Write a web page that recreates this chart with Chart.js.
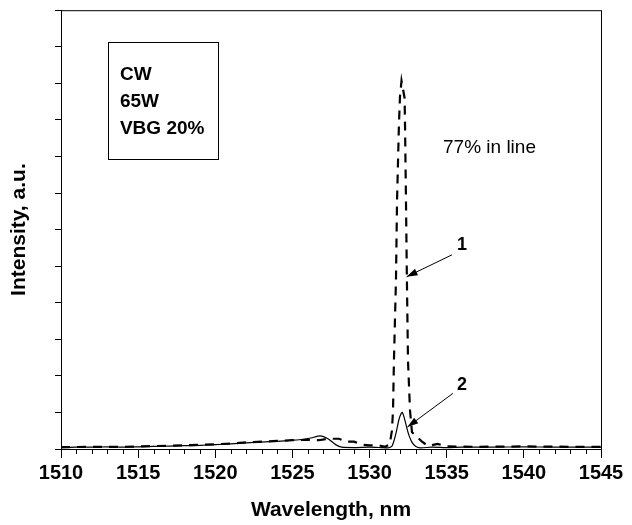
<!DOCTYPE html>
<html>
<head>
<meta charset="utf-8">
<script src="https://cdn.jsdelivr.net/npm/chart.js@4.4.1/dist/chart.umd.min.js"></script>
<style>
  body { margin: 0; background: #fff; }
  #wrap { width: 632px; height: 525px; }
</style>
</head>
<body>
<div id="wrap"><canvas id="spectrum" width="632" height="525"></canvas></div>
<script>
// Curve 1 (dashed) - spectrum
const wavelength1 = [1510, 1512, 1514, 1516, 1518, 1520, 1521, 1522, 1523, 1524, 1525, 1526, 1526.7, 1527.3, 1528,
  1528.5, 1529, 1529.5, 1530, 1530.6, 1531, 1531.3, 1531.45, 1531.52, 1531.58, 1531.71, 1531.78, 1531.9, 1531.97,
  1532.07, 1532.27, 1532.3, 1532.36, 1532.42, 1532.49, 1532.62, 1532.75, 1532.95, 1533.4, 1533.8, 1534.4, 1535,
  1537, 1540, 1543, 1545];
const intensity1 = [0.05, 0.06, 0.06, 0.08, 0.1, 0.13, 0.15, 0.18, 0.2, 0.22, 0.24, 0.25, 0.24, 0.28, 0.28,
  0.2, 0.2, 0.12, 0.1, 0.1, 0.06, 0.12, 0.5, 1.06, 2.42, 4.6, 6.78, 8.82, 9.63,
  10.07, 9.6, 8.8, 6.78, 4.6, 2.42, 1.06, 0.46, 0.38, 0.2, 0.08, 0.14, 0.07,
  0.06, 0.07, 0.06, 0.06];

// Curve 2 (solid)
const wavelength2 = [1510, 1511, 1512, 1513, 1514, 1515, 1516, 1517, 1518, 1519, 1520, 1521, 1522, 1523, 1524, 1525,
  1525.6, 1526.2, 1526.8, 1527.3, 1527.8, 1528.2, 1529, 1530, 1530.7, 1531.2, 1531.45, 1531.6, 1531.75, 1531.9,
  1532.05, 1532.12, 1532.25, 1532.4, 1532.55, 1532.75, 1533, 1533.3, 1534, 1535, 1536, 1538, 1540, 1542, 1545];
const intensity2 = [0.04, 0.05, 0.05, 0.06, 0.05, 0.06, 0.07, 0.08, 0.09, 0.1, 0.12, 0.14, 0.17, 0.19, 0.21, 0.24,
  0.26, 0.3, 0.36, 0.28, 0.12, 0.05, 0.04, 0.05, 0.04, 0.03, 0.08, 0.25, 0.5, 0.8,
  0.98, 1.0, 0.85, 0.6, 0.38, 0.18, 0.07, 0.03, 0.05, 0.04, 0.05, 0.05, 0.06, 0.05, 0.05];

const xTicks = [1510, 1515, 1520, 1525, 1530, 1535, 1540, 1545];

// text box and labels, in data units
const boxLines = ['CW', '65W', 'VBG 20%'];
const boxLineY = [10.23, 9.5, 8.76];
const notes = [
  { text: '77% in line', x: 1534.76, y: 8.24, font: '19px "Liberation Sans", Arial, sans-serif' },
  { text: '1', x: 1535.99, y: 5.58, font: 'bold 18px "Liberation Sans", Arial, sans-serif' },
  { text: '2', x: 1535.99, y: 1.74, font: 'bold 18px "Liberation Sans", Arial, sans-serif' }
];
const arrows = [
  { from: [1535.34, 5.31], to: [1532.4, 4.71] },
  { from: [1535.4, 1.52], to: [1532.45, 0.6] }
];

const FONT = '"Liberation Sans", Arial, sans-serif';
const toPoints = (xs, ys) => xs.map((x, i) => ({ x: x, y: ys[i] }));

// frame, minor ticks and annotations
const decorations = {
  id: 'decorations',
  afterDraw(chart) {
    const { ctx, chartArea: a, scales: { x, y } } = chart;
    ctx.save();
    ctx.strokeStyle = '#000';
    ctx.lineWidth = 1;
    ctx.strokeRect(a.left + 0.5, a.top + 0.5, a.right - a.left, a.bottom - a.top);

    // minor ticks every 1 nm
    ctx.beginPath();
    for (let w = 1511; w < 1545; w++) {
      if (w % 5 === 0) continue;
      const px = Math.round(x.getPixelForValue(w)) + 0.5;
      ctx.moveTo(px, a.bottom);
      ctx.lineTo(px, a.bottom + 5);
    }
    ctx.stroke();

    // text box
    const bx1 = x.getPixelForValue(1513.05), bx2 = x.getPixelForValue(1520.18);
    const by1 = y.getPixelForValue(11.13), by2 = y.getPixelForValue(7.92);
    ctx.strokeRect(Math.round(bx1) + 0.5, Math.round(by1) + 0.5, Math.round(bx2 - bx1), Math.round(by2 - by1));
    ctx.fillStyle = '#000';
    ctx.font = 'bold 19px ' + FONT;
    ctx.textBaseline = 'middle';
    ctx.textAlign = 'left';
    boxLines.forEach((t, i) => {
      ctx.fillText(t, x.getPixelForValue(1513.82), y.getPixelForValue(boxLineY[i]));
    });

    notes.forEach(n => {
      ctx.font = n.font;
      ctx.textAlign = n.text.length > 1 ? 'left' : 'center';
      ctx.fillText(n.text, x.getPixelForValue(n.x), y.getPixelForValue(n.y));
    });

    arrows.forEach(ar => {
      const x1 = x.getPixelForValue(ar.from[0]), y1 = y.getPixelForValue(ar.from[1]);
      const x2 = x.getPixelForValue(ar.to[0]), y2 = y.getPixelForValue(ar.to[1]);
      const ang = Math.atan2(y2 - y1, x2 - x1);
      ctx.beginPath();
      ctx.moveTo(x1, y1);
      ctx.lineTo(x2, y2);
      ctx.lineWidth = 1;
      ctx.stroke();
      ctx.beginPath();
      ctx.moveTo(x2, y2);
      ctx.lineTo(x2 - 11 * Math.cos(ang) + 3.5 * Math.sin(ang), y2 - 11 * Math.sin(ang) - 3.5 * Math.cos(ang));
      ctx.lineTo(x2 - 11 * Math.cos(ang) - 3.5 * Math.sin(ang), y2 - 11 * Math.sin(ang) + 3.5 * Math.cos(ang));
      ctx.closePath();
      ctx.fill();
    });
    ctx.restore();
  }
};

const ctx = document.getElementById('spectrum').getContext('2d');
new Chart(ctx, {
  type: 'line',
  data: {
    datasets: [
      {
        label: '1',
        data: toPoints(wavelength1, intensity1),
        borderColor: '#000',
        borderWidth: 2.2,
        borderDash: [9, 7],
        pointRadius: 0,
        tension: 0
      },
      {
        label: '2',
        data: toPoints(wavelength2, intensity2),
        borderColor: '#000',
        borderWidth: 1.2,
        pointRadius: 0,
        tension: 0.2
      }
    ]
  },
  options: {
    responsive: false,
    animation: false,
    layout: { padding: { top: 8, right: 31, left: 0, bottom: 0 } },
    plugins: { legend: { display: false }, tooltip: { enabled: false } },
    scales: {
      x: {
        type: 'linear',
        min: 1510,
        max: 1545,
        afterBuildTicks: scale => { scale.ticks = xTicks.map(v => ({ value: v })); },
        afterFit: scale => { scale.height = 76; },
        ticks: {
          color: '#000',
          padding: 3,
          maxRotation: 0,
          callback: v => String(v),
          font: { family: FONT, size: 20, weight: 'bold' }
        },
        grid: { drawOnChartArea: false, color: '#000', tickLength: 9 },
        border: { color: '#000' },
        title: {
          display: true,
          text: 'Wavelength, nm',
          color: '#000',
          padding: { bottom: 2 },
          font: { family: FONT, size: 21, weight: 'bold' }
        }
      },
      y: {
        min: 0,
        max: 12,
        afterFit: scale => { scale.width = 61; },
        ticks: { stepSize: 1, callback: () => '' },
        grid: { drawOnChartArea: false, color: '#000', tickLength: 6 },
        border: { color: '#000' },
        title: {
          display: true,
          text: 'Intensity, a.u.',
          color: '#000',
          padding: { top: 7 },
          font: { family: FONT, size: 21, weight: 'bold' }
        }
      }
    }
  },
  plugins: [decorations]
});
</script>
</body>
</html>
